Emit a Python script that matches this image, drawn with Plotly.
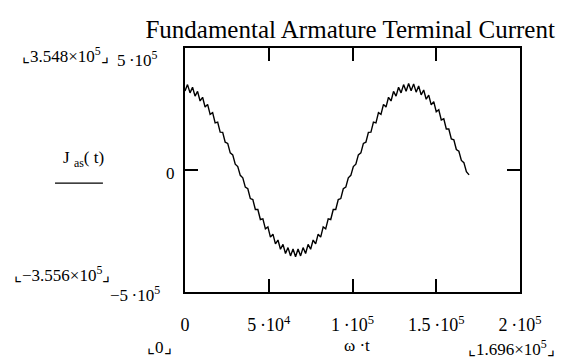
import numpy as np
import plotly.graph_objects as go

# omega*t samples (every 1.5e3, last point at the end of the run)
wt = list(np.arange(0, 168001, 1500)) + [169600]

# J_as(t), in thousands
j_as_k = [
    324, 350, 316, 339, 303, 322, 283, 298, 258, 269,
    228, 235, 193, 196, 155, 154, 114, 109, 70, 62,
    24, 14, -22, -32, -70, -77, -117, -121, -162, -162,
    -203, -200, -241, -233, -275, -263, -303, -287, -325, -305,
    -342, -318, -352, -324, -355.6, -324, -352, -318, -342, -305,
    -325, -287, -303, -263, -275, -233, -241, -200, -203, -162,
    -162, -121, -117, -77, -70, -32, -22, 14, 24, 62,
    70, 109, 114, 154, 155, 196, 193, 235, 228, 269,
    258, 298, 283, 322, 303, 339, 316, 350, 323, 354.8,
    325, 353, 319, 344, 308, 328, 290, 307, 267, 280,
    239, 247, 205, 210, 168, 168, 127, 124, 84, 77,
    39, 30, -7, -20,
]
j_as = [v * 1000 for v in j_as_k]

x_ticks = [0, 5e4, 1e5, 1.5e5, 2e5]
x_tick_text = ["0", "5\u2009·10<sup>4</sup>", "1\u2009·10<sup>5</sup>",
               "1.5\u2009·10<sup>5</sup>", "2\u2009·10<sup>5</sup>"]
y_ticks = [-5e5, 0, 5e5]

SERIF = "Liberation Serif, Times New Roman, serif"

fig = go.Figure()
fig.add_trace(go.Scatter(x=wt, y=j_as, mode="lines",
                         line=dict(color="black", width=1.4),
                         showlegend=False))

# page body has an 8px margin, so the figure is a bit smaller than the window
fig.update_layout(
    width=560, height=355,
    margin=dict(l=177, r=48, t=40, b=71),
    paper_bgcolor="white", plot_bgcolor="white",
    font=dict(family=SERIF, size=17, color="black"),
    title=dict(text="Fundamental Armature Terminal Current",
               x=0.611, xanchor="center", y=0.94, yanchor="middle",
               font=dict(family=SERIF, size=25, color="black")),
    xaxis=dict(range=[0, 2e5], tickvals=x_ticks, ticktext=x_tick_text,
               ticks="inside", ticklen=13, tickwidth=1.5, tickcolor="black",
               showline=True, linewidth=1.6, linecolor="black", mirror="ticks",
               showgrid=False, zeroline=False,
               tickfont=dict(family=SERIF, size=18, color="black"),
               ticklabelstandoff=16),
    yaxis=dict(range=[-5e5, 5e5], tickvals=y_ticks, showticklabels=False,
               ticks="inside", ticklen=13, tickwidth=1.5, tickcolor="black",
               showline=True, linewidth=1.6, linecolor="black", mirror="ticks",
               showgrid=False, zeroline=False),
)

labels = [
    ("\u231e3.548×10<sup>5</sup>\u231f", -0.358, 0.972, "center"),
    ("5\u2009·10<sup>5</sup>", -0.075, 0.955, "right"),
    ("J <sub>as</sub>( t)", -0.304, 0.545, "center"),
    ("0", -0.024, 0.484, "right"),
    ("\u231e\u22123.556×10<sup>5</sup>\u231f", -0.367, 0.072, "center"),
    ("\u22125\u2009·10<sup>5</sup>", -0.069, -0.008, "right"),
    ("\u231e0\u231f", -0.075, -0.228, "center"),
    ("ω ·t", 0.513, -0.218, "center"),
    ("\u231e1.696×10<sup>5</sup>\u231f", 0.976, -0.228, "center"),
]
for text, x, y, anchor in labels:
    fig.add_annotation(text=text, x=x, y=y, xref="paper", yref="paper",
                       xanchor=anchor, yanchor="middle", showarrow=False,
                       font=dict(family=SERIF, size=17, color="black"))

# underline below the J_as(t) label
fig.add_shape(type="line", xref="paper", yref="paper",
              x0=-0.388, x1=-0.245, y0=0.446, y1=0.446,
              line=dict(color="black", width=1.2))

fig.write_html("out.html")
